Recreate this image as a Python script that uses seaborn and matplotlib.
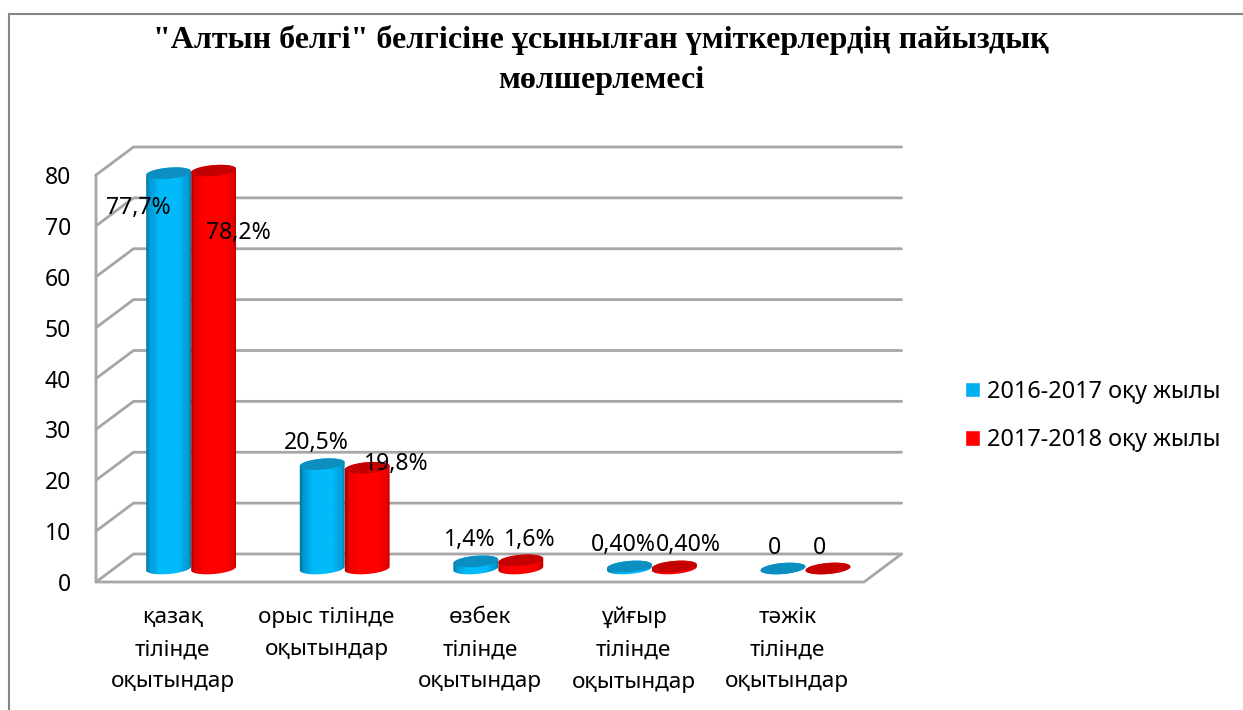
import numpy as np
import pandas as pd
import matplotlib
matplotlib.use("Agg")
import matplotlib.pyplot as plt
import seaborn as sns
from matplotlib.lines import Line2D
from matplotlib.patches import Rectangle, Polygon
from matplotlib.path import Path
from matplotlib.transforms import IdentityTransform
from matplotlib.colors import LinearSegmentedColormap

categories = ["қазақ\nтілінде\nоқытындар", "орыс тілінде\nоқытындар\n ", "өзбек\nтілінде\nоқытындар",
              "ұйғыр\nтілінде\nоқытындар", "тәжік\nтілінде\nоқытындар"]
years = ["2016-2017 оқу жылы", "2017-2018 оқу жылы"]
values_2016 = [77.7, 20.5, 1.4, 0.4, 0]
values_2017 = [78.2, 19.8, 1.6, 0.4, 0]
labels_2016 = ["77,7%", "20,5%", "1,4%", "0,40%", "0"]
labels_2017 = ["78,2%", "19,8%", "1,6%", "0,40%", "0"]
title = "\"Алтын белгі\" белгісіне ұсынылған үміткерлердің пайыздық\nмөлшерлемесі"

offsets_2016 = [(-30, -35), (-6, 21), (-6, 21), (-6, 21), (-8, 21)]
offsets_2017 = [(25, -62), (29, 4), (9, 20), (14, 21), (-9, 21)]

W, H = 1243, 710
SANS = "Noto Sans"
GRID = "#A6A6A6"
DEPTH = (37.5, 28.0)
BAR_SHIFT = (18.3, 13.5)
CAP_B = 5.5
TILT = np.radians(5)

df = pd.DataFrame({
    "cat": categories * 2,
    "year": [years[0]] * 5 + [years[1]] * 5,
    "value": values_2016 + values_2017,
})

sns.set_theme(style="white")
plt.rcParams["font.family"] = [SANS, "DejaVu Sans"]
fig = plt.figure(figsize=(W / 100, H / 100), dpi=100)
ax = fig.add_axes([96 / W, (H - 582) / H, 768 / W, 407 / H])
sns.barplot(data=df, x="cat", y="value", hue="year", hue_order=years,
            palette=["#00B0F0", "#FF0000"], saturation=1, width=0.586, gap=0, ax=ax)
ax.set_xlim(-0.5, 4.5)
ax.set_ylim(0, 80)
ax.set_yticks(range(0, 81, 10))
ax.set_xlabel("")
ax.set_ylabel("")
ax.tick_params(axis="y", length=0, pad=18, labelsize=16.5, labelcolor="black")
ax.tick_params(axis="x", length=0, pad=18, labelsize=16.2, labelcolor="black")
for lab in ax.get_xticklabels():
    lab.set_linespacing(1.7)
for s in ax.spines.values():
    s.set_visible(False)
ax.patch.set_alpha(0)


def disp(x, y):
    return ax.transData.transform((x, y))


# walls and gridlines
for v in range(0, 81, 10):
    fx, fy = disp(-0.5, v)
    ex, _ = disp(4.5, v)
    ax.add_line(Line2D([fx, fx + DEPTH[0], ex + DEPTH[0]], [fy, fy + DEPTH[1], fy + DEPTH[1]],
                       transform=IdentityTransform(), color=GRID, lw=2.0, clip_on=False, zorder=1))
x0, y0 = disp(-0.5, 0)
x1, y1 = disp(4.5, 0)
_, ytop = disp(-0.5, 80)
ax.add_line(Line2D([x0, x0, x1, x1 + DEPTH[0]], [ytop, y0, y0, y0 + DEPTH[1]],
                   transform=IdentityTransform(), color=GRID, lw=2.0, clip_on=False, zorder=1))


def ell(cx, cy, a, b, t):
    return (cx + a * np.cos(t) * np.cos(TILT) - b * np.sin(t) * np.sin(TILT),
            cy + a * np.cos(t) * np.sin(TILT) + b * np.sin(t) * np.cos(TILT))


stops = [0, 0.1, 0.3, 0.7, 0.9, 1]
styles = [
    (["#00719A", "#009CD5", "#00BAFA", "#00BAFA", "#009CD5", "#00719A"], "#0C8FC0"),
    (["#A00000", "#EA0000", "#FF0000", "#FF0000", "#EA0000", "#A00000"], "#C40000"),
]
all_labels = [labels_2016, labels_2017]
all_offsets = [offsets_2016, offsets_2017]
z = 3
for j, cont in enumerate(ax.containers):
    cmap = LinearSegmentedColormap.from_list("c", list(zip(stops, styles[j][0])))
    for i, bar in enumerate(cont):
        bar.set_visible(False)
        bx, bw, h = bar.get_x(), bar.get_width(), bar.get_height()
        cx, base = disp(bx + bw / 2, 0)
        cx += BAR_SHIFT[0]
        base += BAR_SHIFT[1]
        _, top = disp(bx, h)
        top += BAR_SHIFT[1]
        left, _ = disp(bx, 0)
        right, _ = disp(bx + bw, 0)
        a = (right - left) / 2
        t1 = np.linspace(np.pi, 2 * np.pi, 40)
        t2 = np.linspace(0, np.pi, 40)
        px1, py1 = ell(cx, base, a, CAP_B, t1)
        px2, py2 = ell(cx, top, a, CAP_B, t2)
        poly = np.column_stack([np.r_[px1, px2], np.r_[py1, py2]])
        path = Path(np.vstack([poly, poly[0]]), closed=True)
        im = ax.imshow(np.linspace(0, 1, 64).reshape(1, -1), cmap=cmap, aspect="auto",
                       extent=(cx - a - 1, cx + a + 1, base - 12, top + 12),
                       transform=IdentityTransform(), zorder=z)
        im.set_clip_box(fig.bbox)
        im.set_clip_path(path, transform=IdentityTransform())
        qx, qy = ell(cx, top, a, CAP_B, np.linspace(0, 2 * np.pi, 80))
        ax.add_patch(Polygon(np.column_stack([qx, qy]), closed=True, transform=IdentityTransform(),
                             facecolor=styles[j][1], edgecolor="none", zorder=z + 0.5, clip_on=False))
        dx, dy = all_offsets[j][i]
        ax.annotate(all_labels[j][i], xy=(cx, top), xycoords=IdentityTransform(),
                    xytext=(dx, dy), textcoords="offset pixels", ha="center", va="center",
                    fontsize=16.6, color="black", zorder=20, annotation_clip=False)
        z += 1
ax.set_xlim(-0.5, 4.5)
ax.set_ylim(0, 80)
ax.set_aspect("auto")

# legend
sns.move_legend(ax, "center left", bbox_to_anchor=(944 / W, (H - 416) / H),
                bbox_transform=fig.transFigure, title=None, frameon=False, fontsize=16.9,
                handlelength=0.64, handleheight=0.64, handletextpad=0.3, labelspacing=1.05)
for t in ax.get_legend().get_texts():
    t.set_color("black")

fig.text(601 / W, (H - 60) / H, title, ha="center", va="center", fontsize=23,
         family="Liberation Serif", weight="bold", color="black", linespacing=1.47)

# chart frame (its right and bottom edges lie outside the picture)
fig.add_artist(Rectangle((9 / W, -0.02), 1.02, (H - 14) / H + 0.02, transform=fig.transFigure,
                         fill=False, edgecolor="#868686", lw=1.5))
fig.savefig("out.png", dpi=100, facecolor="white")
